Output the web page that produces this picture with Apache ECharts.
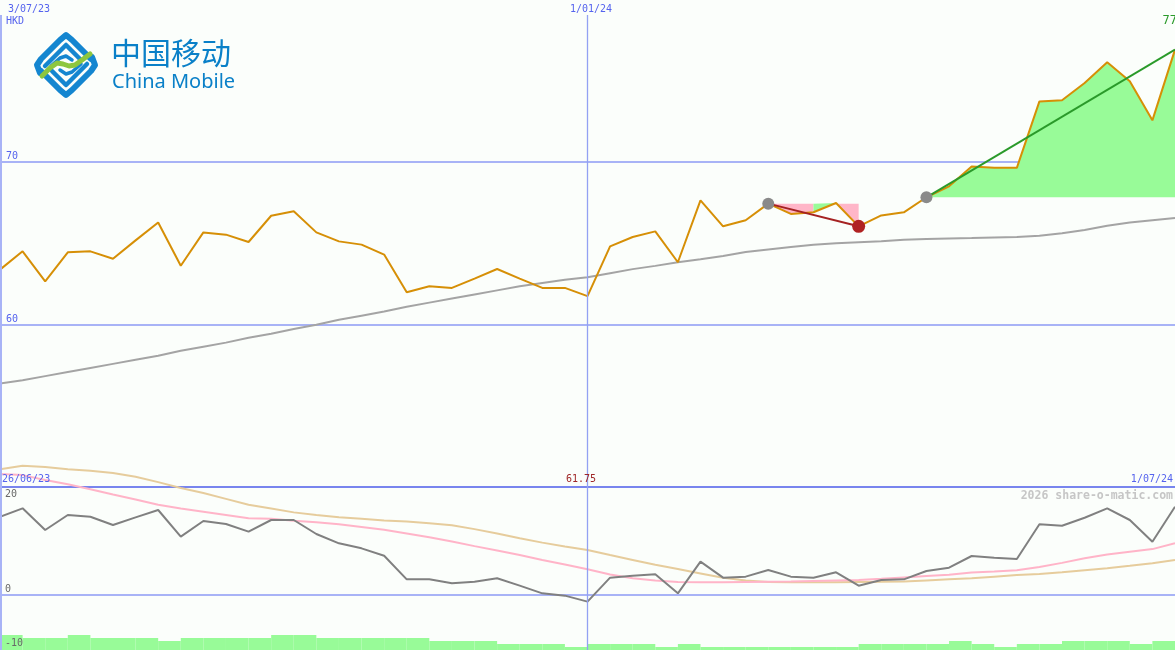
<!DOCTYPE html>
<html><head><meta charset="utf-8">
<script src="https://cdn.jsdelivr.net/npm/echarts@6/dist/echarts.min.js"></script>
<style>html,body{margin:0;padding:0;background:#fbfefb}#c{width:1175px;height:650px}</style>
</head><body><div id="c"></div>
<script>
// ---------- DATA ----------
const dates = ['3/07/23','10/07/23','17/07/23','24/07/23','31/07/23','7/08/23','14/08/23','21/08/23','28/08/23','4/09/23',
 '11/09/23','18/09/23','25/09/23','2/10/23','9/10/23','16/10/23','23/10/23','30/10/23','6/11/23','13/11/23',
 '20/11/23','27/11/23','4/12/23','11/12/23','18/12/23','25/12/23','1/01/24','8/01/24','15/01/24','22/01/24',
 '29/01/24','5/02/24','12/02/24','19/02/24','26/02/24','4/03/24','11/03/24','18/03/24','25/03/24','1/04/24',
 '8/04/24','15/04/24','22/04/24','29/04/24','6/05/24','13/05/24','20/05/24','27/05/24','3/06/24','10/06/24',
 '17/06/24','24/06/24','1/07/24'];
const price = [63.37,64.49,62.65,64.43,64.49,64.04,65.16,66.26,63.61,65.65,
 65.51,65.06,66.67,66.94,65.65,65.10,64.90,64.29,61.98,62.35,
 62.25,62.82,63.41,62.82,62.25,62.25,61.75,64.79,65.37,65.71,
 63.82,67.61,66.02,66.39,67.41,66.78,66.88,67.45,66.02,66.69,
 66.88,67.80,68.47,69.69,69.60,69.60,73.67,73.74,74.80,76.06,
 74.90,72.51,76.84];
const movingAvg = [56.39,56.6,56.85,57.1,57.35,57.6,57.85,58.1,58.4,58.65,
 58.9,59.2,59.45,59.74,60.0,60.3,60.55,60.8,61.1,61.35,
 61.6,61.85,62.1,62.35,62.55,62.75,62.9,63.15,63.4,63.6,
 63.82,64.0,64.2,64.45,64.6,64.75,64.9,64.98,65.04,65.1,
 65.2,65.25,65.28,65.3,65.33,65.36,65.45,65.6,65.8,66.05,
 66.25,66.4,66.53];
const oscGray = [14.5,16.05,12.04,14.81,14.5,12.96,14.38,15.74,10.8,13.7,
 13.15,11.73,13.89,13.89,11.3,9.57,8.64,7.28,2.9,2.9,
 2.16,2.47,3.09,1.73,0.31,-0.12,-1.23,3.21,3.58,3.83,
 0.31,6.17,3.21,3.4,4.63,3.4,3.21,4.2,1.73,2.78,
 2.9,4.44,5.06,7.22,6.91,6.67,13.09,12.83,14.31,16.05,
 13.89,9.87,16.35];
const oscPink = [22.4,22.2,21.3,20.5,19.6,18.6,17.7,16.7,16.0,15.4,
 14.8,14.2,14.1,13.75,13.45,13.1,12.6,12.1,11.4,10.7,
 9.9,9.05,8.25,7.4,6.5,5.65,4.75,3.8,3.1,2.7,
 2.4,2.35,2.35,2.4,2.45,2.5,2.6,2.7,2.8,3.0,
 3.25,3.5,3.75,4.15,4.35,4.6,5.2,5.95,6.8,7.5,
 8.0,8.5,9.6];
const oscTan = [23.3,23.95,23.7,23.3,23.0,22.6,21.9,20.9,19.8,18.9,
 17.8,16.7,16.0,15.3,14.8,14.4,14.1,13.8,13.6,13.3,
 12.9,12.2,11.4,10.5,9.7,9.0,8.33,7.4,6.5,5.6,
 4.8,4.0,3.2,2.7,2.4,2.35,2.35,2.35,2.4,2.45,
 2.5,2.7,2.9,3.1,3.4,3.7,3.9,4.2,4.6,4.95,
 5.4,5.9,6.5];
const volume = [5,4,4,5,4,4,4,3,4,4,
 4,4,5,5,4,4,4,4,4,3,
 3,3,2,2,2,1,2,2,2,1,
 2,1,1,1,1,1,1,1,2,2,
 2,2,3,2,1,2,2,3,3,3,
 2,3];
const priceTicks = [60, 70];
const oscTicks = [20, 0, -10];
const currency = 'HKD';
const prevDate = '26/06/23';
const watermark = '2026 share-o-matic.com';
const trendDown = [34, 38];
const trendUp = [41, 52];
const bandPink = [[34, 36], [37, 38]];
const bandGreen = [[36, 37]];

// ---------- STYLE ----------
const GRID_BLUE = '#a8b3f6', DARK_BLUE = '#7885ee', TXT_BLUE = '#5563ee';
const MONO = '"DejaVu Sans Mono", monospace';
const LOGO_BLUE = '#1486d0', LOGO_GREEN = '#8dc63f';
const pick = (a, b) => price.map((v, i) => (i >= a && i <= b ? v : null));

const bandSeries = [];
bandPink.forEach(([a, b]) => bandSeries.push({type:'line', data: pick(a, b), symbol:'none', silent:true,
  lineStyle:{opacity:0}, areaStyle:{origin: price[trendDown[0]], color:'#ffb6c8', opacity:1}}));
bandGreen.forEach(([a, b]) => bandSeries.push({type:'line', data: pick(a, b), symbol:'none', silent:true,
  lineStyle:{opacity:0}, areaStyle:{origin: price[trendDown[0]], color:'#98fb98', opacity:1}}));

const downData = price.map((v, i) => {
  if (i === trendDown[0]) return {value: v, symbol:'circle', symbolSize:12, itemStyle:{color:'#8a8a8a'}};
  if (i === trendDown[1]) return {value: v, symbol:'circle', symbolSize:13, itemStyle:{color:'#b02222'}};
  return null;
});
const upData = price.map((v, i) => {
  if (i === trendUp[0]) return {value: v, symbol:'circle', symbolSize:12, itemStyle:{color:'#8a8a8a'}};
  if (i === trendUp[1]) return {value: v, symbol:'none'};
  return null;
});

const minPrice = Math.min(...price);
const lastPrice = price[price.length - 1];

function logoLine(points, color, w) {
  return {type:'polyline', z:10, silent:true, shape:{points: points}, style:{stroke: color, lineWidth: w, fill: null, lineCap:'round', lineJoin:'round'}};
}

const chart = echarts.init(document.getElementById('c'), null, {renderer:'canvas'});
chart.setOption({
  animation: false,
  backgroundColor: '#fbfefb',
  grid: [
    {left:0, right:0, top:-2, height:490, outerBoundsMode:'none'},
    {left:0, right:0, top:460, height:189, outerBoundsMode:'none'},
    {left:0, right:0, top:620, height:30, outerBoundsMode:'none'},
    {left:0, right:0, top:15, height:635, outerBoundsMode:'none'}
  ],
  xAxis: [
    {gridIndex:0, type:'category', data:dates, boundaryGap:false, show:false},
    {gridIndex:1, type:'category', data:dates, boundaryGap:false, show:false},
    {gridIndex:2, type:'category', data:dates.slice(0, volume.length), boundaryGap:true, show:false},
    {gridIndex:3, type:'category', data:dates, boundaryGap:false, show:false}
  ],
  yAxis: [
    {gridIndex:0, type:'value', min:50, max:80, interval:10,
     axisLine:{show:false}, axisTick:{show:false},
     splitLine:{show:true, lineStyle:{width:2, color:['rgba(0,0,0,0)', GRID_BLUE, GRID_BLUE, 'rgba(0,0,0,0)']}},
     axisLabel:{inside:true, margin:6, verticalAlign:'bottom', color:TXT_BLUE, fontFamily:MONO, fontSize:10,
       formatter: v => priceTicks.includes(v) ? String(v) : ''}},
    {gridIndex:1, type:'value', min:-10, max:25, interval:10, z:3,
     axisLine:{show:false}, axisTick:{show:false},
     splitLine:{show:true, lineStyle:{width:2, color:['rgba(0,0,0,0)', GRID_BLUE, 'rgba(0,0,0,0)', DARK_BLUE, 'rgba(0,0,0,0)']}},
     axisLabel:{inside:true, margin:5, verticalAlign:'middle', color:'#686868', fontFamily:MONO, fontSize:10,
       formatter: v => !oscTicks.includes(v) ? '' : (v === oscTicks[0] ? '{lo|' + v + '}' : '{hi|' + v + '}'),
       rich:{lo:{padding:[14,0,0,0], fontFamily:MONO, fontSize:10, color:'#686868'},
             hi:{padding:[0,0,12,0], fontFamily:MONO, fontSize:10, color:'#686868'}}}},
    {gridIndex:2, type:'value', min:0, max:10, show:false},
    {gridIndex:3, type:'value', min:0, max:1, show:false}
  ],
  series: [
    {type:'line', xAxisIndex:3, yAxisIndex:3, data: dates.map(() => null), symbol:'none', silent:true, z:1,
     markLine:{silent:true, symbol:['none','none'], label:{show:false}, lineStyle:{color:GRID_BLUE, type:'solid'},
       data:[{xAxis: dates[0], lineStyle:{color:GRID_BLUE, width:4, type:'solid'}},
             {xAxis: dates[26], lineStyle:{color:'#93a1f3', width:1.3, type:'solid'}}]}},
    {type:'line', data: pick(trendUp[0], trendUp[1]), symbol:'none', silent:true,
     lineStyle:{opacity:0}, areaStyle:{origin: price[trendUp[0]], color:'#98fb98', opacity:1}},
    ...bandSeries,
    {name:'Moving average', type:'line', data: movingAvg, symbol:'none', lineStyle:{color:'#a4a4a4', width:2}},
    {name:'Price', type:'line', data: price, symbol:'none', lineStyle:{color:'#d68f06', width:2}},
    {type:'line', data: downData, connectNulls:true, symbol:'none', showAllSymbol:true, lineStyle:{color:'#a52222', width:2}},
    {type:'line', data: upData, connectNulls:true, symbol:'none', showAllSymbol:true, lineStyle:{color:'#2a9a2a', width:2}},
    {type:'line', xAxisIndex:1, yAxisIndex:1, data: oscTan, symbol:'none', lineStyle:{color:'#e6cc9c', width:2}},
    {type:'line', xAxisIndex:1, yAxisIndex:1, data: oscPink, symbol:'none', lineStyle:{color:'#ffb4c8', width:2}},
    {type:'line', xAxisIndex:1, yAxisIndex:1, data: oscGray, symbol:'none', lineStyle:{color:'#808080', width:2}},
    {type:'bar', xAxisIndex:2, yAxisIndex:2, data: volume, barCategoryGap:'0%', barGap:'0%', itemStyle:{color:'#98fb98'}}
  ],
  graphic: [
    {type:'text', x:8, y:4, z:10, style:{text: dates[0], fill:TXT_BLUE, fontFamily:MONO, fontSize:10, verticalAlign:'top'}},
    {type:'text', x:6, y:16, z:10, style:{text: currency, fill:TXT_BLUE, fontFamily:MONO, fontSize:10, verticalAlign:'top'}},
    {type:'text', x:591, y:4, z:10, style:{text: dates[26], fill:TXT_BLUE, fontFamily:MONO, fontSize:10, align:'center', verticalAlign:'top'}},
    {type:'text', x:1177, y:15, z:10, style:{text: String(Math.round(lastPrice)), fill:'#2a9a2a', fontFamily:MONO, fontSize:12, align:'right', verticalAlign:'top'}},
    {type:'text', x:2, y:474, z:10, style:{text: prevDate, fill:TXT_BLUE, fontFamily:MONO, fontSize:10, verticalAlign:'top'}},
    {type:'text', x:581, y:474, z:10, style:{text: minPrice.toFixed(2), fill:'#a02828', fontFamily:MONO, fontSize:10, align:'center', verticalAlign:'top'}},
    {type:'text', x:1173, y:474, z:10, style:{text: dates[dates.length-1], fill:TXT_BLUE, fontFamily:MONO, fontSize:10, align:'right', verticalAlign:'top'}},
    {type:'text', x:1173, y:490, z:10, style:{text: watermark, fill:'#c6c6c6', fontFamily:MONO, fontSize:11.5, fontWeight:'bold', align:'right', verticalAlign:'top'}},
    {type:'text', x:111, y:38, z:10, style:{text:'中国移动', fill:'#0a80c8', fontFamily:'"Noto Sans CJK SC"', fontSize:30, verticalAlign:'top'}},
    {type:'text', x:112, y:72, z:10, style:{text:'China Mobile', fill:'#0a80c8', fontFamily:'"Noto Sans"', fontSize:20, verticalAlign:'top'}},
    logoLine([[40,73],[37,65],[41,59],[60,40],[66,35],[72,40],[91,59]], LOGO_BLUE, 6),
    logoLine([[92,57],[95,65],[91,71],[72,90],[66,95],[60,90],[41,71]], LOGO_BLUE, 6),
    logoLine([[45,66],[61,50],[66,45],[71,50],[80,59]], LOGO_BLUE, 4.5),
    logoLine([[87,64],[71,80],[66,85],[61,80],[52,71]], LOGO_BLUE, 4.5),
    logoLine([[51,66],[60,58],[66,56],[72,60]], LOGO_BLUE, 3.5),
    logoLine([[81,64],[72,72],[66,74],[60,70]], LOGO_BLUE, 3.5),
    logoLine([[42,76],[50,68],[57,63],[63,64],[69,66],[75,65],[82,60],[90,54]], LOGO_GREEN, 5)
  ]
});
</script>
</body></html>
